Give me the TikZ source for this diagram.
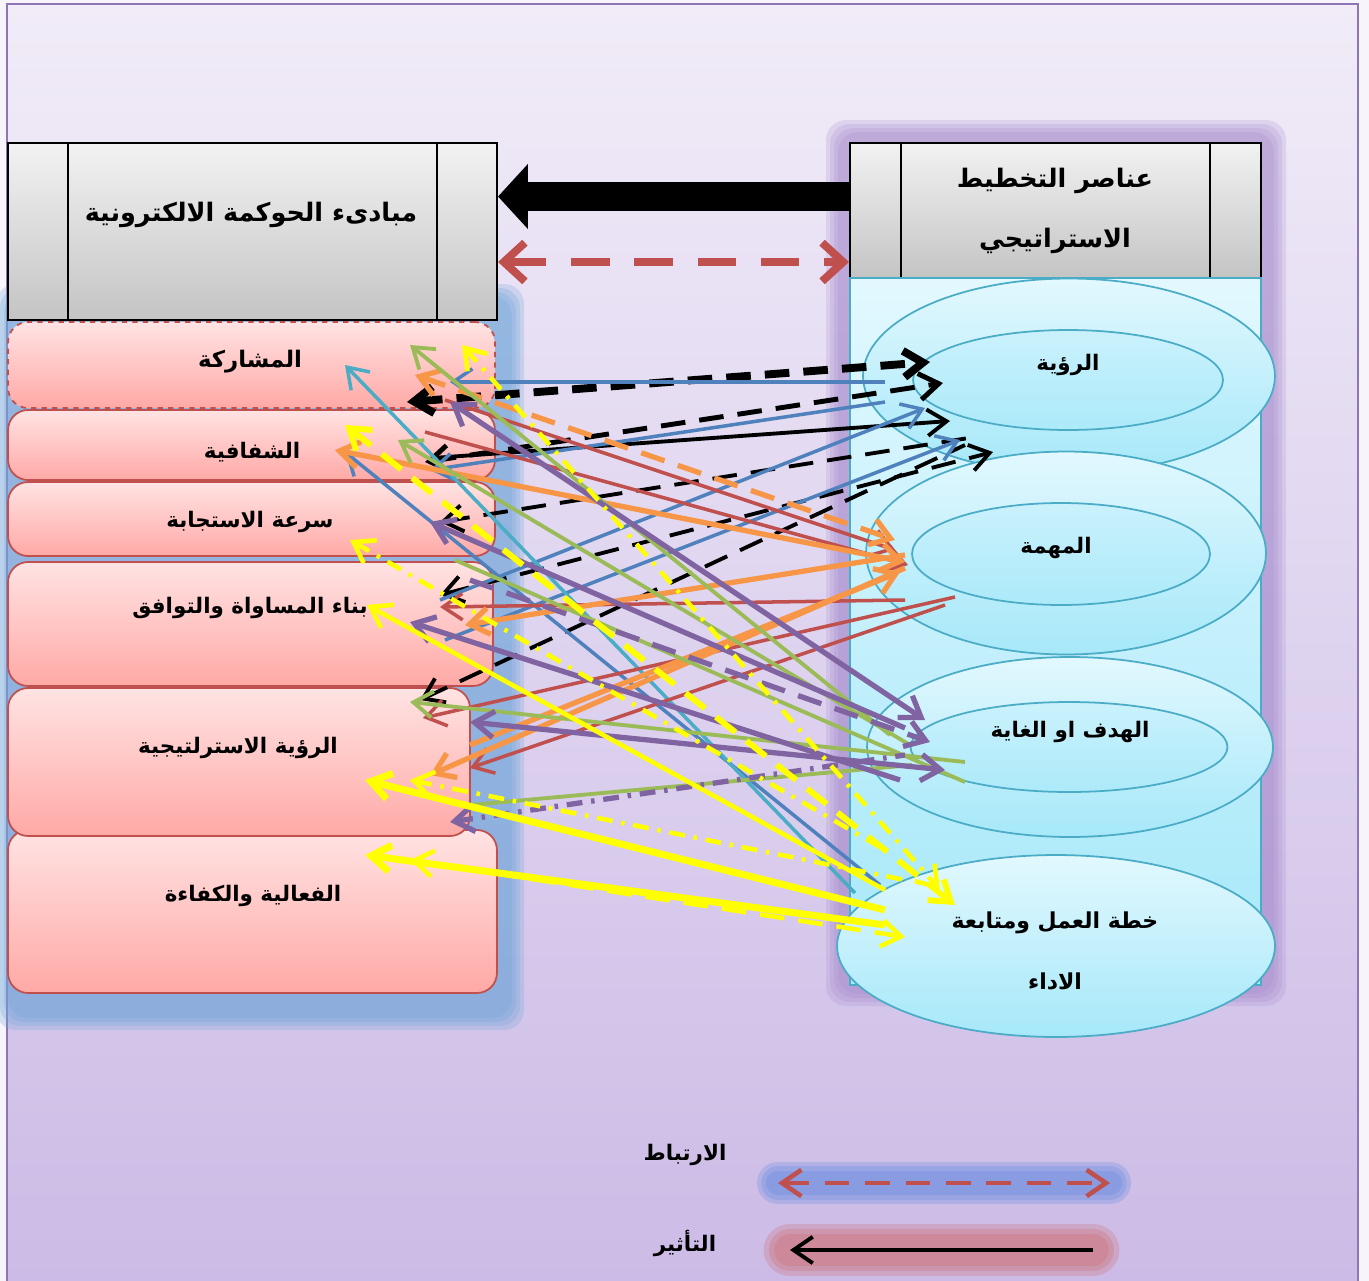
\documentclass[tikz,border=0pt]{standalone}
\usepackage{fontspec}
\newfontfamily\arabicfont[Script=Arabic]{DejaVu Sans}
\TeXXeTstate=1
\usetikzlibrary{arrows.meta,shapes.geometric,positioning}

\definecolor{bgtop}{HTML}{F1ECF8}
\definecolor{bgbot}{HTML}{CCBBE6}
\definecolor{framec}{HTML}{8E76B6}
\definecolor{glowpur}{HTML}{9E82C8}
\definecolor{glowblu}{HTML}{6FA6DA}
\definecolor{hdrtop}{HTML}{F2F2F2}
\definecolor{hdrbot}{HTML}{C4C4C4}
\definecolor{pinktop}{HTML}{FFE3E3}
\definecolor{pinkbot}{HTML}{FFA9A6}
\definecolor{rdline}{HTML}{C0504D}
\definecolor{cyantop}{HTML}{E2F8FE}
\definecolor{cyanbot}{HTML}{A6E8F9}
\definecolor{tealline}{HTML}{4BACC6}
\definecolor{ablue}{HTML}{4F81BD}
\definecolor{ared}{HTML}{C0504D}
\definecolor{aorange}{HTML}{F79646}
\definecolor{agreen}{HTML}{9BBB59}
\definecolor{apurple}{HTML}{8064A2}
\definecolor{ayellow}{HTML}{FFFF00}
\definecolor{ateal}{HTML}{4BACC6}

\newcommand{\rtl}[1]{\beginR #1\endR}

\begin{document}
\begin{tikzpicture}[x=0.02cm,y=-0.02cm,
  >={Straight Barb[length=11pt,width=15pt]},
  hdrbox/.style={draw=black,line width=1.2pt,top color=hdrtop,bottom color=hdrbot,
    path picture={
      \draw[line width=1pt] ([xshift=#1]path picture bounding box.north west) -- ([xshift=#1]path picture bounding box.south west);
      \draw[line width=1pt] ([xshift=-#1]path picture bounding box.north east) -- ([xshift=-#1]path picture bounding box.south east);}},
  princ/.style={draw=rdline,line width=1pt,rounded corners=0.4cm,top color=pinktop,bottom color=pinkbot},
  ring/.style={ellipse,draw=tealline,line width=1pt,inner sep=0pt,top color=cyantop,bottom color=cyanbot},
  hole/.style={ellipse,draw=tealline,line width=1pt,inner sep=0pt,top color=cyantop!60!cyanbot,bottom color=cyanbot!90!cyantop},
  lbl/.style={font=\arabicfont\bfseries\fontsize{12.2}{15}\selectfont,align=center,inner sep=0pt},
  hdrlbl/.style={font=\arabicfont\bfseries\fontsize{14.5}{34}\selectfont,align=center,inner sep=0pt},
  kline/.style={draw=black,line width=2.2pt},
  bline/.style={draw=ablue,line width=2pt},
  tline/.style={draw=ateal,line width=2pt},
  rline/.style={draw=ared,line width=2pt},
  oline/.style={draw=aorange,line width=3pt},
  gline/.style={draw=agreen,line width=2.2pt},
  pline/.style={draw=apurple,line width=3pt},
  yline/.style={draw=ayellow,line width=2.6pt},
  longdash/.style={dash pattern=on 14pt off 8pt},
  dashdot/.style={dash pattern=on 9pt off 5pt on 2pt off 5pt}]

\useasboundingbox (0,0) rectangle (1369,1281);

% background and frame
\fill[bgtop!60!white] (0,0) rectangle (1369,1281);
\shade[top color=bgtop,bottom color=bgbot] (7,4) rectangle (1358,1281);
\draw[framec,line width=1.5pt] (7,1281) -- (7,4) -- (1358,4) -- (1358,1281);

% glows
\foreach \g in {0,...,3}
  \fill[glowpur,opacity=0.2,rounded corners=0.4cm] (826+4*\g,120+4*\g) rectangle (1286-4*\g,1006-4*\g);
\foreach \g in {0,...,3}
  \fill[glowblu,opacity=0.25,rounded corners=0.4cm] (-4+4*\g,284+4*\g) rectangle (524-4*\g,1030-4*\g);

% headers
\node[hdrbox=1.2cm,minimum width=9.78cm,minimum height=3.54cm] (hdrL) at (252.5,231.5) {};
\node[hdrbox=1.02cm,minimum width=8.22cm,minimum height=2.70cm] (hdrR) at (1055.5,210.5) {};
\node[hdrlbl] (hdrLtxt) at (251,215) {\rtl{مبادىء الحوكمة الالكترونية}};
\node[hdrlbl] (hdrRtxt) at (1055,211) {\rtl{عناصر التخطيط}\\\rtl{الاستراتيجي}};

% principles
\node[princ,dashed,minimum width=9.74cm,minimum height=1.72cm] (mosh) at (251.5,365) {};
\node[princ,minimum width=9.74cm,minimum height=1.40cm] (shaf) at (251.5,445) {};
\node[princ,minimum width=9.74cm,minimum height=1.48cm] (sora) at (251.5,519) {};
\node[princ,minimum width=9.70cm,minimum height=2.48cm] (mosa) at (250.5,624) {};
\node[princ,minimum width=9.78cm,minimum height=3.26cm] (faal) at (252.5,911.5) {};
\node[princ,minimum width=9.24cm,minimum height=2.96cm] (roya) at (239,762) {};
\node[lbl,font=\arabicfont\bfseries\fontsize{13}{16}\selectfont] (moshtxt) at (250,362) {\rtl{المشاركة}};
\node[lbl] (shaftxt) at (252,452) {\rtl{الشفافية}};
\node[lbl] (soratxt) at (250,522) {\rtl{سرعة الاستجابة}};
\node[lbl] (mosatxt) at (250,608) {\rtl{بناء المساواة  والتوافق}};
\node[lbl] (royatxt) at (238,748) {\rtl{الرؤية  الاسترلتيجية}};
\node[lbl] (faaltxt) at (253,896) {\rtl{الفعالية والكفاءة}};

% planning elements
\node[draw=tealline,line width=1pt,top color=cyantop,bottom color=cyanbot,minimum width=8.22cm,minimum height=14.14cm] (col) at (1055.5,631.5) {};
\node[ring,minimum width=8.24cm,minimum height=3.9cm] (visO) at (1069,376) {};
\node[hole,minimum width=6.2cm,minimum height=2.0cm] (visI) at (1068,380) {};
\node[ring,minimum width=8.0cm,minimum height=4.06cm] (misO) at (1066,553) {};
\node[hole,minimum width=5.96cm,minimum height=2.04cm] (misI) at (1061,554) {};
\node[ring,minimum width=8.12cm,minimum height=3.6cm] (goalO) at (1070,747) {};
\node[hole,minimum width=6.34cm,minimum height=1.8cm] (goalI) at (1069,747) {};
\node[ring,minimum width=8.76cm,minimum height=3.64cm] (plan) at (1056,946) {};
\node[lbl] (vistxt) at (1068,365) {\rtl{الرؤية}};
\node[lbl] (mistxt) at (1056,548) {\rtl{المهمة}};
\node[lbl] (goaltxt) at (1070,732) {\rtl{الهدف او الغاية}};
\node[lbl,font=\arabicfont\bfseries\fontsize{12.5}{35}\selectfont] (plantxt) at (1055,951) {\rtl{خطة العمل ومتابعة}\\\rtl{الاداء}};

% header connectors
\draw[line width=16pt,-{Triangle[length=17pt,width=36pt]}] ([yshift=0.28cm]hdrR.west) -- ([yshift=0.28cm]hdrR.west -| hdrL.east);
\draw[draw=ared,line width=4.5pt,dash pattern=on 22pt off 14pt,{Straight Barb[length=12pt,width=22pt]}-{Straight Barb[length=12pt,width=22pt]}] ([yshift=-0.61cm]hdrL.east) -- ([yshift=-0.61cm]hdrL.east -| hdrR.west);

% arrow ends
\foreach \n/\x/\y in {k1l/407/402, k1r/930/362, k2l/425/462, k2r/943/383, k3l/433/458, k3r/950/421,
  k4l/440/522, k4r/975/437, k5l/440/595, k5r/993/452, k6l/420/700, k6r/965/445,
  b1l/450/382, b1r/885/382, b2l/430/470, b2r/885/402, b3l/440/600, b3r/925/408,
  b4l/445/640, b4r/960/440, b5l/345/452, b5r/880/885, t1l/345/365, t1r/855/893,
  r1l/425/432, r1r/908/565, r2l/445/400, r2r/895/550, r3l/440/607, r3r/905/600,
  r4l/423/718, r4r/955/597, r5l/470/768, r5r/945/605,
  o1l/415/375, o1r/895/540, o2l/335/450, o2r/905/562, o3l/465/625, o3r/905/555,
  o4l/430/775, o4r/905/568, o5l/470/745, o5r/900/572,
  g1l/410/345, g1r/890/735, g2l/398/440, g2r/910/745, g3l/410/702, g3r/965/762,
  g4l/470/805, g4r/912/765, g5l/455/560, g5r/965/782,
  p1l/450/402, p1r/925/720, p2l/430/522, p2r/905/728, p3l/410/622, p3r/900/780,
  p4l/470/722, p4r/945/770, p5l/450/822, p5r/905/755, p6l/470/580, p6r/930/742,
  y1l/462/345, y1r/940/890, y2l/345/425, y2r/955/905, y3l/350/540, y3r/885/850,
  y4l/367/605, y4r/885/890, y5l/365/780, y5r/885/910, y6l/410/780, y6r/905/880,
  y7l/365/855, y7r/885/925, y8l/410/860, y8r/905/937}
  \coordinate (\n) at (\x,\y);

% links
\draw[kline,line width=4.5pt,dash pattern=on 14pt off 8pt,<->] (k1l) -- (k1r);
\draw[kline,line width=2.8pt,longdash,<->] (k2l) -- (k2r);
\draw[kline,->] (k3l) -- (k3r);
\draw[kline,longdash,<-] (k4l) -- (k4r);
\draw[kline,longdash,<->] (k5l) -- (k5r);
\draw[kline,longdash,<-] (k6l) -- (k6r);

\draw[bline,<-] (b1l) -- (b1r);
\draw[bline,<-] (b2l) -- (b2r);
\draw[bline,->] (b3l) -- (b3r);
\draw[bline,->] (b4l) -- (b4r);
\draw[bline,<-] (b5l) -- (b5r);
\draw[tline,<-] (t1l) -- (t1r);

\draw[rline,->] (r1l) -- (r1r);
\draw[rline,->] (r2l) -- (r2r);
\draw[rline,<-] (r3l) -- (r3r);
\draw[rline,<-] (r4l) -- (r4r);
\draw[rline,<-] (r5l) -- (r5r);

\draw[oline,longdash,<->] (o1l) -- (o1r);
\draw[oline,<->] (o2l) -- (o2r);
\draw[oline,<-] (o3l) -- (o3r);
\draw[oline,<-] (o4l) -- (o4r);
\draw[oline,->] (o5l) -- (o5r);

\draw[gline,<-] (g1l) -- (g1r);
\draw[gline,<-] (g2l) -- (g2r);
\draw[gline,<-] (g3l) -- (g3r);
\draw[gline] (g4l) -- (g4r);
\draw[gline] (g5l) -- (g5r);

\draw[pline,<->] (p1l) -- (p1r);
\draw[pline,<-] (p2l) -- (p2r);
\draw[pline,<-] (p3l) -- (p3r);
\draw[pline,<->] (p4l) -- (p4r);
\draw[pline,dashdot,<-] (p5l) -- (p5r);
\draw[pline,longdash,->] (p6l) -- (p6r);

\draw[yline,dashdot,<->] (y1l) -- (y1r);
\draw[yline,line width=3.4pt,longdash,<->] (y2l) -- (y2r);
\draw[yline,dashdot,<-] (y3l) -- (y3r);
\draw[yline,<-] (y4l) -- (y4r);
\draw[yline,line width=4pt,<-] (y5l) -- (y5r);
\draw[yline,dashdot,<-] (y6l) -- (y6r);
\draw[yline,line width=4pt,<-] (y7l) -- (y7r);
\draw[yline,longdash,<->] (y8l) -- (y8r);

% legend
\node[lbl] (lgRel) at (685,1155) {\rtl{الارتباط}};
\node[lbl] (lgInf) at (685,1243) {\rtl{التأثير}};
\coordinate (lgRelA) at (778,1183);
\coordinate (lgRelB) at (1110,1183);
\coordinate (lgInfA) at (1093,1250);
\coordinate (lgInfB) at (790,1250);
\foreach \w in {24,19,14}
  \draw[glowblu!80!blue,opacity=0.25,line width=\w pt,line cap=round] (lgRelA) -- (lgRelB);
\draw[draw=ared,line width=2.6pt,dash pattern=on 14pt off 9pt,<->] (lgRelA) -- (lgRelB);
\foreach \w in {30,24,18}
  \draw[ared!80!pink,opacity=0.25,line width=\w pt,line cap=round] (lgInfA) -- (lgInfB);
\draw[kline,->] (lgInfA) -- (lgInfB);

\end{tikzpicture}
\end{document}
